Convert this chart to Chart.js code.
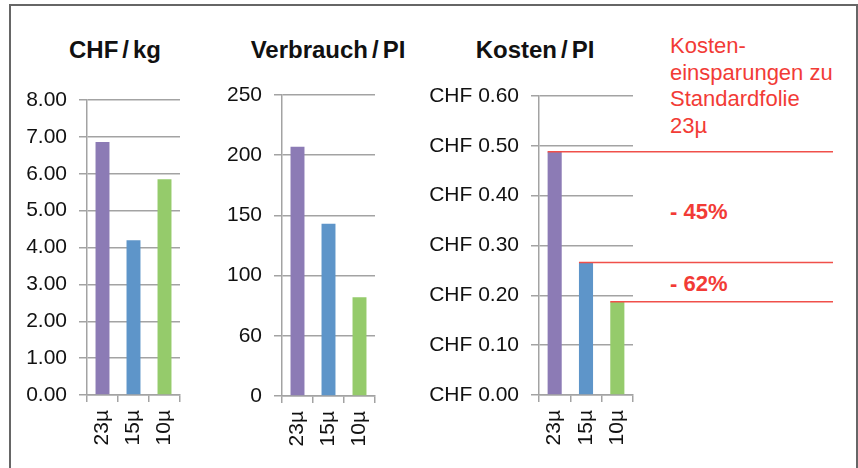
<!DOCTYPE html>
<html>
<head>
<meta charset="utf-8">
<script src="https://cdn.jsdelivr.net/npm/chart.js@4"></script>
<style>
  body { margin: 0; background: #fff; width: 858px; height: 468px; overflow: hidden; position: relative; font-family: "Liberation Sans", Arial, sans-serif; }
  .frame { position: absolute; left: 9px; top: 4px; width: 845px; height: 480px; border: 2px solid #666; }
  .box { position: absolute; }
  .title { position: absolute; font-weight: bold; font-size: 24px; line-height: 24px; color: #111; text-align: center; white-space: nowrap; }
  .title span { margin: 0 4px; }
  .note { position: absolute; color: #f23b36; font-size: 22px; line-height: 26.5px; white-space: nowrap; }
  .pct { position: absolute; color: #f23b36; font-size: 22px; font-weight: bold; line-height: 22px; white-space: nowrap; }
</style>
</head>
<body>
<div class="frame"></div>

<div class="title" style="left:20px;top:38px;width:190px;">CHF<span>/</span>kg</div>
<div class="title" style="left:228px;top:38px;width:200px;">Verbrauch<span>/</span>PI</div>
<div class="title" style="left:445px;top:38px;width:180px;">Kosten<span>/</span>PI</div>

<div class="note" style="left:670px;top:33px;">Kosten-<br>einsparungen zu<br>Standardfolie<br>23µ</div>
<div class="pct" style="left:670px;top:201px;">- 45%</div>
<div class="pct" style="left:670px;top:273px;">- 62%</div>

<div class="box" style="left:10px;top:70px;width:172px;height:398px;"><canvas id="c1"></canvas></div>
<div class="box" style="left:195px;top:65px;width:182px;height:403px;"><canvas id="c2"></canvas></div>
<div class="box" style="left:420px;top:66px;width:438px;height:402px;"><canvas id="c3"></canvas></div>

<script>
// data
const categories = ['23µ', '15µ', '10µ'];
const chfPerKg = [6.86, 4.20, 5.85];
const verbrauch = [207, 143, 82];
const kosten = [0.488, 0.266, 0.187];

const ticksKg = ['0.00', '1.00', '2.00', '3.00', '4.00', '5.00', '6.00', '7.00', '8.00'];
const ticksVerbrauch = ['0', '60', '100', '150', '200', '250'];
const ticksKosten = ['CHF 0.00', 'CHF 0.10', 'CHF 0.20', 'CHF 0.30', 'CHF 0.40', 'CHF 0.50', 'CHF 0.60'];

const barColors = ['#8c7bb5', '#5e95c9', '#95cb6b'];
const gridColor = '#a3a3a3';
const fontFamily = '"Liberation Sans", Arial, sans-serif';

Chart.defaults.font.family = fontFamily;
Chart.defaults.animation = false;

function makeChart(id, values, max, step, tickLabels, yWidth, xHeight, padRight, extraPlugins) {
  return new Chart(document.getElementById(id), {
    type: 'bar',
    data: {
      labels: categories,
      datasets: [{
        data: values,
        backgroundColor: barColors,
        borderWidth: 0,
        barPercentage: 0.45,
        categoryPercentage: 1
      }]
    },
    options: {
      responsive: true,
      maintainAspectRatio: false,
      layout: { padding: { top: 30, right: padRight, left: 0, bottom: 0 } },
      plugins: { legend: { display: false }, tooltip: { enabled: false } },
      scales: {
        x: {
          grid: { drawOnChartArea: false, drawTicks: true, tickLength: 7, color: gridColor, lineWidth: 1.5 },
          border: { display: true, color: gridColor, width: 1.5 },
          ticks: { minRotation: 90, maxRotation: 90, padding: 8, color: '#111', font: { size: 21 } },
          afterFit: (scale) => {
            scale.height = xHeight;
            // rotated labels must not push the plot area in
            scale.paddingLeft = 0;
            scale.paddingRight = 0;
          }
        },
        y: {
          min: 0,
          max: max,
          grid: { color: gridColor, lineWidth: 1.5, tickLength: 8 },
          border: { display: true, color: gridColor, width: 1.5 },
          ticks: {
            stepSize: step,
            padding: 12,
            color: '#111',
            font: { size: 21 },
            callback: (v, i) => tickLabels[i]
          },
          afterFit: (scale) => { scale.width = yWidth; }
        }
      }
    },
    plugins: extraPlugins || []
  });
}

// red comparison lines from the top of each bar to the right
const savingLines = {
  id: 'savingLines',
  afterDatasetsDraw(chart) {
    const ctx = chart.ctx;
    const bars = chart.getDatasetMeta(0).data;
    ctx.save();
    ctx.strokeStyle = '#f0504a';
    ctx.lineWidth = 1.5;
    bars.forEach((bar) => {
      ctx.beginPath();
      ctx.moveTo(bar.x - bar.width / 2, bar.y);
      ctx.lineTo(413, bar.y);
      ctx.stroke();
    });
    ctx.restore();
  }
};

makeChart('c1', chfPerKg, 8, 1, ticksKg, 77, 73, 2);
makeChart('c2', verbrauch, 250, 50, ticksVerbrauch, 87, 72, 2);
makeChart('c3', kosten, 0.6, 0.1, ticksKosten, 119, 73, 225, [savingLines]);
</script>
</body>
</html>
